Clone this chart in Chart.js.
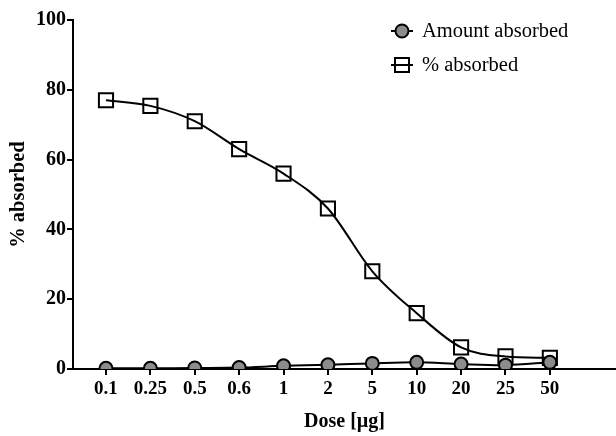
<!doctype html>
<html>
<head>
    <meta charset="utf-8" />
    <title>Dose absorbed</title>
    <script src="https://cdn.jsdelivr.net/npm/chart.js@4"></script>
    <style>
        html, body { margin: 0; padding: 0; background: #fff; overflow: hidden; }
        canvas { display: block; }
    </style>
</head>
<body>
<canvas id="joonis" width="616" height="436"></canvas>
<script>
// data
const doses = ['0.1', '0.25', '0.5', '0.6', '1', '2', '5', '10', '20', '25', '50'];
const amountAbsorbed = [0.2, 0.2, 0.3, 0.4, 0.9, 1.2, 1.6, 1.9, 1.4, 1.1, 1.9];
const percentAbsorbed = [77, 75.4, 71, 63, 56, 46, 28, 16, 6.2, 3.6, 3.2];
const yTicks = [0, 20, 40, 60, 80, 100];

const serif = '"Liberation Serif", "Times New Roman", serif';

function asPoints(arr) {
    return arr.map((v, i) => ({ x: i, y: v }));
}

// legend drawn in the top right corner, inside the plot
const cornerLegend = {
    id: 'cornerLegend',
    afterDraw(chart) {
        const ctx = chart.ctx;
        const rows = [31, 65];
        chart.data.datasets.forEach((ds, i) => {
            const y = rows[i];
            ctx.save();
            ctx.strokeStyle = '#000';
            ctx.lineWidth = 2;
            ctx.beginPath();
            ctx.moveTo(391, y);
            ctx.lineTo(413, y);
            ctx.stroke();
            ctx.beginPath();
            if (ds.pointStyle === 'rect') {
                ctx.rect(395, y - 7, 14, 14);
            } else {
                ctx.arc(402, y, 6.5, 0, Math.PI * 2);
            }
            ctx.fillStyle = ds.pointBackgroundColor;
            ctx.fill();
            ctx.stroke();
            ctx.fillStyle = '#000';
            ctx.font = '20.5px ' + serif;
            ctx.textBaseline = 'middle';
            ctx.fillText(ds.label, 422, y + 1);
            ctx.restore();
        });
    }
};

new Chart(document.getElementById('joonis'), {
    type: 'line',
    data: {
        datasets: [
            {
                label: 'Amount absorbed',
                data: asPoints(amountAbsorbed),
                borderColor: '#000',
                borderWidth: 2,
                pointStyle: 'circle',
                pointRadius: 6.5,
                pointBorderWidth: 2,
                pointBorderColor: '#000',
                pointBackgroundColor: '#8c8c8c',
                tension: 0.3
            },
            {
                label: '% absorbed',
                data: asPoints(percentAbsorbed),
                borderColor: '#000',
                borderWidth: 2,
                pointStyle: 'rect',
                pointRadius: 10,
                pointBorderWidth: 2,
                pointBorderColor: '#000',
                pointBackgroundColor: 'rgba(255,255,255,0)',
                cubicInterpolationMode: 'monotone'
            }
        ]
    },
    options: {
        responsive: false,
        animation: false,
        layout: { autoPadding: false, padding: { top: 20, right: 0, left: 0, bottom: 0 } },
        plugins: {
            legend: { display: false },
            tooltip: { enabled: false }
        },
        scales: {
            x: {
                type: 'linear',
                min: -0.743,
                max: 11.49,
                afterBuildTicks: s => { s.ticks = doses.map((d, i) => ({ value: i })); },
                afterFit: s => { s.height = 67; s.paddingLeft = 0; s.paddingRight = 0; },
                grid: { drawOnChartArea: false, drawTicks: true, tickLength: 6, color: '#000', lineWidth: 2 },
                border: { color: '#000', width: 2 },
                ticks: {
                    autoSkip: false,
                    maxRotation: 0,
                    padding: 3,
                    color: '#000',
                    font: { family: serif, size: 19, weight: 'bold' },
                    callback: v => doses[v]
                },
                title: {
                    display: true,
                    text: 'Dose [µg]',
                    color: '#000',
                    font: { family: serif, size: 20, weight: 'bold' },
                    padding: { top: 0, bottom: 2 }
                }
            },
            y: {
                min: 0,
                max: 100,
                afterBuildTicks: s => { s.ticks = yTicks.map(v => ({ value: v })); },
                afterFit: s => { s.width = 73; s.paddingTop = 0; s.paddingBottom = 0; },
                grid: { drawOnChartArea: false, drawTicks: true, tickLength: 6, color: '#000', lineWidth: 2 },
                border: { color: '#000', width: 2 },
                ticks: {
                    padding: 1,
                    color: '#000',
                    font: { family: serif, size: 20, weight: 'bold' }
                },
                title: {
                    display: true,
                    text: '% absorbed',
                    color: '#000',
                    font: { family: serif, size: 20.5, weight: 'bold' },
                    padding: { top: 6, bottom: 0 }
                }
            }
        }
    },
    plugins: [cornerLegend]
});
</script>
</body>
</html>
